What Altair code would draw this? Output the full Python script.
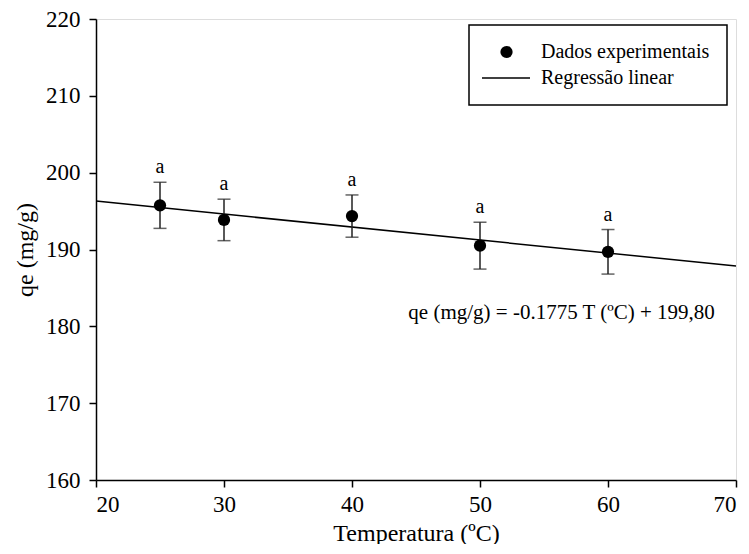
import altair as alt
import pandas as pd

# ---- data ----
temperature = [25, 30, 40, 50, 60]
qe_mean = [195.75, 193.85, 194.35, 190.5, 189.7]
qe_err = [3.0, 2.7, 2.75, 3.05, 2.9]
group_letters = ["a", "a", "a", "a", "a"]

line_T = [20, 70]
line_qe = [196.3, 187.85]

equation_text = "qe (mg/g) = -0.1775 T (ºC) + 199,80"
equation_T = 44.4
equation_qe = 181.7

legend_labels = ["Dados experimentais", "Regressão linear"]

x_ticks = [20, 30, 40, 50, 60, 70]
y_ticks = [160, 170, 180, 190, 200, 210, 220]

FONT = "Liberation Serif"

pts = pd.DataFrame({
    "T": temperature,
    "qe": qe_mean,
    "lo": [m - e for m, e in zip(qe_mean, qe_err)],
    "hi": [m + e for m, e in zip(qe_mean, qe_err)],
    "letter": group_letters,
})
reg = pd.DataFrame({"T": line_T, "qe": line_qe})
eq = pd.DataFrame({"T": [equation_T], "qe": [equation_qe], "txt": [equation_text]})
one = pd.DataFrame({"k": [0]})

xs = alt.Scale(domain=[20, 70], nice=False, zero=False)
ys = alt.Scale(domain=[160, 220], nice=False, zero=False)

xax = alt.Axis(values=x_ticks, title="Temperatura (ºC)", grid=False, format="d",
               labelFont=FONT, labelFontSize=23, titleFont=FONT, titleFontSize=24,
               titleFontWeight="normal", labelColor="black", titleColor="black",
               domainColor="black", tickColor="black", domainWidth=1.5, tickWidth=1.5,
               tickSize=7, labelPadding=6, titlePadding=5)
yax = alt.Axis(values=y_ticks, title="qe (mg/g)", grid=False, format="d",
               labelFont=FONT, labelFontSize=23, titleFont=FONT, titleFontSize=24,
               titleFontWeight="normal", labelColor="black", titleColor="black",
               domainColor="black", tickColor="black", domainWidth=1.5, tickWidth=1.5,
               tickSize=7, labelPadding=9, titlePadding=8)

base = alt.Chart(pts)

line = alt.Chart(reg).mark_line(color="black", strokeWidth=1.5).encode(
    x=alt.X("T:Q", scale=xs, axis=xax),
    y=alt.Y("qe:Q", scale=ys, axis=yax),
)

rules = base.mark_rule(color="#222", strokeWidth=1.5).encode(
    x="T:Q", y="lo:Q", y2="hi:Q"
)
cap_hi = base.mark_tick(color="#222", thickness=1.5, size=13, orient="horizontal").encode(
    x="T:Q", y="hi:Q"
)
cap_lo = base.mark_tick(color="#222", thickness=1.5, size=13, orient="horizontal").encode(
    x="T:Q", y="lo:Q"
)

points = base.mark_point(filled=True, color="black", opacity=1, size=150).encode(
    x="T:Q", y="qe:Q",
)

letters = base.mark_text(font=FONT, fontSize=20, color="black", baseline="alphabetic",
                         dy=-9).encode(x="T:Q", y="hi:Q", text="letter:N")

eqtext = alt.Chart(eq).mark_text(font=FONT, fontSize=21, color="black", align="left",
                                 baseline="middle").encode(x="T:Q", y="qe:Q", text="txt:N")

# ---- legend box (pixel placement inside the plot area) ----
leg = alt.Chart(one)
leg_box = leg.mark_rect(fill="white", stroke="black", strokeWidth=1.5).encode(
    x=alt.value(373), x2=alt.value(631), y=alt.value(6), y2=alt.value(86)
)
leg_dot = leg.mark_point(filled=True, color="black", opacity=1, size=150).encode(
    x=alt.value(410.5), y=alt.value(33)
)
leg_line = leg.mark_rule(color="black", strokeWidth=1.5).encode(
    x=alt.value(386), x2=alt.value(434), y=alt.value(59)
)
leg_t1 = leg.mark_text(font=FONT, fontSize=20, color="black", align="left",
                       baseline="middle", text=legend_labels[0]).encode(
    x=alt.value(445), y=alt.value(33)
)
leg_t2 = leg.mark_text(font=FONT, fontSize=20, color="black", align="left",
                       baseline="middle", text=legend_labels[1]).encode(
    x=alt.value(445), y=alt.value(59)
)

chart = alt.layer(line, rules, cap_hi, cap_lo, points, letters, eqtext,
                  leg_box, leg_dot, leg_line, leg_t1, leg_t2).properties(
    width=640, height=461,
    autosize=alt.AutoSizeParams(type="none"),
    padding={"left": 88, "top": 11, "right": 4, "bottom": 64},
).configure_view(stroke="black", strokeWidth=1.5).configure(background="white")

chart.save("out.html", embed_options={"renderer": "svg", "actions": False})
